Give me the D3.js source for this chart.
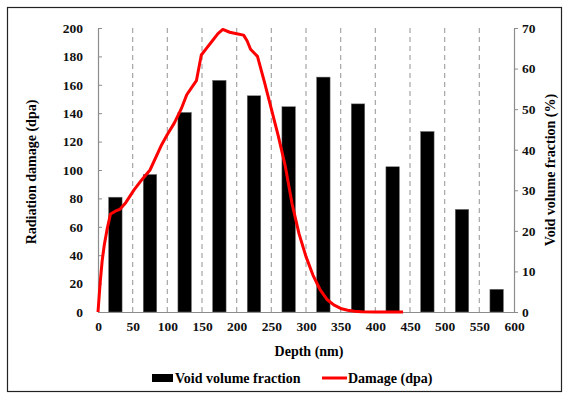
<!DOCTYPE html>
<html>
<head>
<meta charset="utf-8">
<script src="https://cdn.jsdelivr.net/npm/d3@7"></script>
<style>
  body { margin: 0; background: #fff; }
  svg text { font-family: "Liberation Serif", "Times New Roman", serif; font-weight: bold; }
</style>
</head>
<body>
<figure id="chart" style="margin:0"></figure>
<script>
// void volume fraction bars (right axis, %)
const barDepths = [25, 75, 125, 175, 225, 275, 325, 375, 425, 475, 525, 575];
const voidFraction = [28.3, 33.9, 49.2, 57.1, 53.3, 50.6, 57.9, 51.3, 35.8, 44.5, 25.3, 5.6];

// damage profile (left axis, dpa)
const damageDepth = [0, 3, 6, 9, 13, 18, 25, 32, 40, 52, 63, 75, 92, 100, 110, 120, 128, 135, 142, 149, 157, 165, 173, 180, 190, 200, 210, 215, 220, 230, 240, 250, 260, 270, 280, 290, 300, 310, 320, 330, 340, 350, 360, 370, 380, 400, 420, 440];
const damageDpa = [0, 20, 36, 47, 58, 69, 71, 72.5, 77, 86, 93, 100, 118, 125, 133, 143, 153, 158, 163, 181, 186, 191, 196, 199, 197, 196, 195, 191, 185, 180, 162, 143, 124, 103, 76, 55, 39, 26, 16, 9, 5, 2.5, 1.2, 0.5, 0.2, 0, 0, 0];

// tick labels
const xTicks = [0, 50, 100, 150, 200, 250, 300, 350, 400, 450, 500, 550, 600];
const leftTicks = [0, 20, 40, 60, 80, 100, 120, 140, 160, 180, 200];
const rightTicks = [0, 10, 20, 30, 40, 50, 60, 70];
const gridDepths = [50, 100, 150, 200, 250, 300, 350, 400, 450, 500, 550];

const width = 566, height = 394;
const plot = { left: 98, right: 514, top: 28, bottom: 312 };

const svg = d3.select("figure#chart")
  .append("svg")
  .attr("width", width)
  .attr("height", height);

// outer frame
svg.append("rect")
  .attr("x", 7.5).attr("y", 7.5)
  .attr("width", 554).attr("height", 384)
  .attr("fill", "none")
  .attr("stroke", "#222")
  .attr("stroke-width", 1.2);

const x = d3.scaleLinear().domain([0, 600]).range([plot.left, plot.right]);
const yL = d3.scaleLinear().domain([0, 200]).range([plot.bottom, plot.top]);
const yR = d3.scaleLinear().domain([0, 70]).range([plot.bottom, plot.top]);

// dashed vertical gridlines
svg.append("g")
  .selectAll("line")
  .data(gridDepths)
  .enter()
  .append("line")
  .attr("x1", d => x(d)).attr("x2", d => x(d))
  .attr("y1", plot.top).attr("y2", plot.bottom)
  .attr("stroke", "#a6a6a6")
  .attr("stroke-width", 1.2)
  .attr("stroke-dasharray", "5,4");

// bars
const barW = x(19.5) - x(0);
svg.append("g")
  .selectAll("rect")
  .data(barDepths)
  .enter()
  .append("rect")
  .attr("x", d => x(d) - barW / 2)
  .attr("y", (d, i) => yR(voidFraction[i]))
  .attr("width", barW)
  .attr("height", (d, i) => plot.bottom - yR(voidFraction[i]))
  .attr("fill", "#000")
  .attr("stroke", "#777")
  .attr("stroke-width", 0.5);

// left axis (ticks point inward)
const gL = svg.append("g")
  .attr("transform", "translate(" + plot.left + ",0)")
  .call(d3.axisLeft(yL).tickValues(leftTicks).tickSizeInner(-4).tickSizeOuter(0).tickPadding(15));

// right axis
const gR = svg.append("g")
  .attr("transform", "translate(" + plot.right + ",0)")
  .call(d3.axisRight(yR).tickValues(rightTicks).tickSizeInner(4).tickSizeOuter(0).tickPadding(4));

// bottom axis
const gB = svg.append("g")
  .attr("transform", "translate(0," + plot.bottom + ")")
  .call(d3.axisBottom(x).tickValues(xTicks).tickSize(0).tickPadding(9));

[gL, gR, gB].forEach(g => {
  g.select(".domain").attr("stroke", "#8c8c8c").attr("stroke-width", 1.2);
  g.selectAll(".tick line").attr("stroke", "#8c8c8c");
  g.selectAll(".tick text")
    .attr("fill", "#111")
    .style("font-size", "13.5px")
    .style("font-family", "'Liberation Serif', serif")
    .style("font-weight", "bold");
});

// damage line
const line = d3.line()
  .x((d, i) => x(damageDepth[i]))
  .y(d => yL(d));

svg.append("path")
  .datum(damageDpa)
  .attr("d", line)
  .attr("fill", "none")
  .attr("stroke", "#ff0000")
  .attr("stroke-width", 3)
  .attr("stroke-linejoin", "round");

// axis titles
svg.append("text")
  .attr("transform", "translate(36,172) rotate(-90)")
  .attr("text-anchor", "middle")
  .style("font-size", "14px")
  .text("Radiation damage (dpa)");

svg.append("text")
  .attr("transform", "translate(555,170) rotate(-90)")
  .attr("text-anchor", "middle")
  .style("font-size", "14px")
  .text("Void volume fraction (%)");

svg.append("text")
  .attr("x", 309).attr("y", 356)
  .attr("text-anchor", "middle")
  .style("font-size", "14px")
  .text("Depth (nm)");

// legend
svg.append("rect")
  .attr("x", 152).attr("y", 374)
  .attr("width", 21).attr("height", 8)
  .attr("fill", "#000");
svg.append("text")
  .attr("x", 175).attr("y", 383)
  .style("font-size", "14px")
  .text("Void volume fraction");

svg.append("line")
  .attr("x1", 322).attr("x2", 347)
  .attr("y1", 378).attr("y2", 378)
  .attr("stroke", "#ff0000")
  .attr("stroke-width", 3);
svg.append("text")
  .attr("x", 348).attr("y", 383)
  .style("font-size", "14px")
  .text("Damage (dpa)");
</script>
</body>
</html>
